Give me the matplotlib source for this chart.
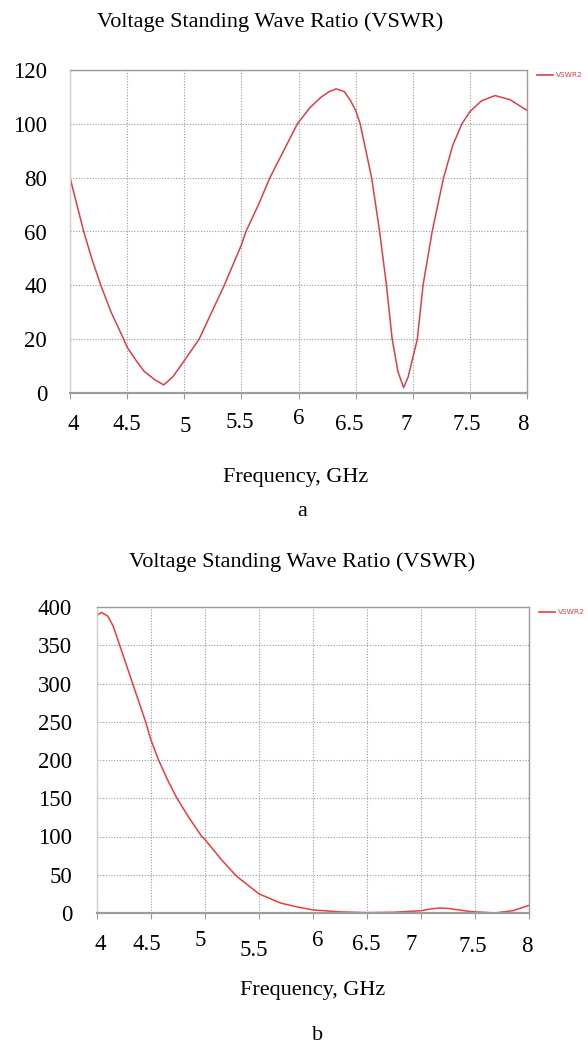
import matplotlib
matplotlib.use("Agg")
import matplotlib.pyplot as plt
from matplotlib.transforms import blended_transform_factory

# ---- data ----
freq_a = [4.00, 4.06, 4.12, 4.19, 4.27, 4.36, 4.47, 4.50, 4.58, 4.65, 4.74, 4.82,
          4.90, 5.00, 5.13, 5.24, 5.35, 5.50, 5.54, 5.65, 5.75, 5.87, 5.99, 6.10,
          6.20, 6.27, 6.33, 6.40, 6.45, 6.50, 6.54, 6.59, 6.64, 6.71, 6.77, 6.82,
          6.87, 6.92, 6.96, 7.00, 7.04, 7.09, 7.17, 7.27, 7.35, 7.43, 7.50, 7.60,
          7.72, 7.85, 8.00]
vswr_a = [80, 70, 60, 50, 40, 30, 20, 17, 12, 8, 5, 3,
          6, 12, 20, 30, 40, 55, 60, 70, 80, 90, 100, 106,
          110, 112, 113, 112, 109, 105, 100, 90, 80, 60, 40, 20,
          8, 2, 6, 13, 20, 40, 60, 80, 92, 100, 104.5, 108.5,
          110.5, 109, 105]

freq_b = [4.00, 4.04, 4.10, 4.15, 4.21, 4.33, 4.45, 4.50, 4.57, 4.65, 4.74, 4.85,
          4.97, 5.00, 5.15, 5.28, 5.32, 5.50, 5.70, 5.85, 6.00, 6.25, 6.50, 6.75,
          7.00, 7.10, 7.17, 7.25, 7.35, 7.45, 7.50, 7.60, 7.68, 7.85, 8.00]
vswr_b = [389, 393, 388, 375, 350, 300, 250, 226, 200, 175, 150, 125,
          100, 96, 70, 50, 45, 25, 13, 8, 4, 1.5, 0.5, 1,
          3, 5.5, 6.5, 6, 4, 2, 1.5, 0.8, 0, 3, 10]

xticks = [4, 4.5, 5, 5.5, 6, 6.5, 7, 7.5, 8]
xtick_labels = ["4", "4.5", "5", "5.5", "6", "6.5", "7", "7.5", "8"]
yticks_a = [0, 20, 40, 60, 80, 100, 120]
yticks_b = [0, 50, 100, 150, 200, 250, 300, 350, 400]

TITLE = "Voltage Standing Wave Ratio (VSWR)"
XLABEL = "Frequency, GHz"
LEGEND = "VSWR2"

W, H = 588, 1048
SERIF = ["Liberation Serif", "DejaVu Serif"]
TICK_FS = 16.5

fig = plt.figure(figsize=(W / 100, H / 100), dpi=100)
fig.patch.set_facecolor("white")


def fx(px):
    return px / W


def fy(py):
    return 1 - py / H


def panel(box, xs, ys, yticks, ymax, color, title_xy, tick_y, nudges,
          xlabel_xy, tag, tag_xy, ylab_pad):
    left, top, right, bottom = box
    ax = fig.add_axes([fx(left), fy(bottom), fx(right - left), (bottom - top) / H])
    ax.plot(xs, ys, color=color, lw=1.1, solid_joinstyle="round")
    ax.set_xlim(4, 8)
    ax.set_ylim(0, ymax)
    ax.set_xticks(xticks)
    ax.set_yticks(yticks)
    ax.set_xticklabels([])
    ax.grid(True, color="#9a9a9a", ls=(0, (1, 1.5)), lw=0.8)
    ax.set_axisbelow(True)
    for s in ax.spines.values():
        s.set_color("#9c9c9c")
        s.set_linewidth(1.0)
    ax.spines["bottom"].set_linewidth(1.6)
    ax.spines["left"].set_color("#cfcfcf")
    ax.tick_params(axis="x", length=4, color="#9c9c9c", direction="out")
    ax.tick_params(axis="y", length=0, pad=ylab_pad, labelsize=TICK_FS)
    for lab in ax.get_yticklabels():
        lab.set_fontfamily(SERIF)
    # irregular x tick labels, like pasted text boxes in the original
    tr = blended_transform_factory(ax.transData, fig.transFigure)
    for x, lab, (dx, dy) in zip(xticks, xtick_labels, nudges):
        ax.text(x + dx, fy(tick_y + dy), lab, transform=tr, ha="center",
                va="center", fontsize=TICK_FS, family=SERIF)
    fig.text(fx(title_xy[0]), fy(title_xy[1]), TITLE, ha="center",
             va="center", fontsize=16, family=SERIF)
    fig.text(fx(xlabel_xy[0]), fy(xlabel_xy[1]), XLABEL, ha="center",
             va="center", fontsize=16, family=SERIF)
    fig.text(fx(tag_xy[0]), fy(tag_xy[1]), tag, ha="center", va="center",
             fontsize=16, family=SERIF)
    # small legend outside the plot on the right
    fig.add_artist(plt.Line2D([fx(right + 10), fx(right + 26)],
                              [fy(top + 5), fy(top + 5)], color=color, lw=1.2))
    fig.text(fx(right + 29), fy(top + 5), LEGEND, ha="left", va="center",
             fontsize=5.3, color=color, family="DejaVu Sans")
    return ax


nudge_a = [(0.03, 0), (0, 0), (0.01, 3), (-0.01, -2), (0, -5),
           (-0.06, 0), (-0.06, 0), (-0.03, 0), (-0.04, 0)]
nudge_b = [(0.03, 0), (-0.04, 0), (-0.04, -4), (-0.05, 5), (0.04, -4),
           (-0.01, 0), (-0.09, -1), (-0.02, 2), (-0.02, 2)]

panel((70, 70, 527, 393), freq_a, vswr_a, yticks_a, 120, "#dc3f47",
      (270, 22), 424, nudge_a, (296, 477), "a", (302, 511), 16.5)
panel((97, 607, 529, 913), freq_b, vswr_b, yticks_b, 400, "#ee3b3b",
      (302, 562), 945, nudge_b, (313, 990), "b", (318, 1035), 18)

fig.savefig("out.png", dpi=100, facecolor="white")
